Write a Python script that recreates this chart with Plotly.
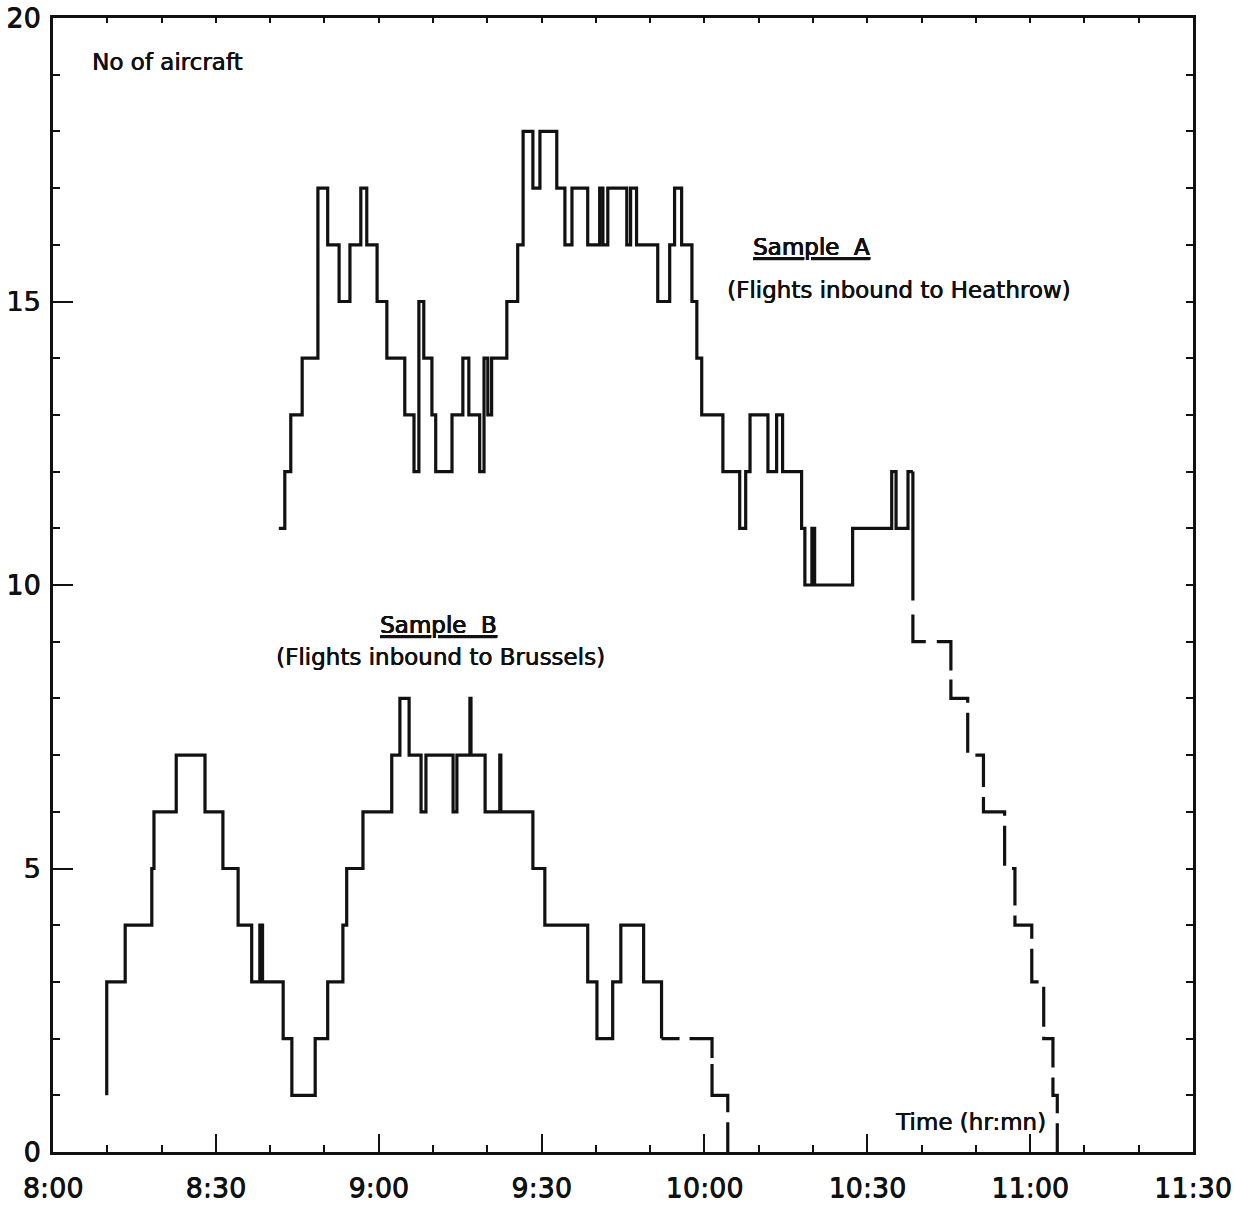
import plotly.graph_objects as go

# Time axis: minutes after 8:00
x_tick_vals = [0, 30, 60, 90, 120, 150, 180, 210]
x_tick_text = ["8:00", "8:30", "9:00", "9:30", "10:00", "10:30", "11:00", "11:30"]
y_tick_vals = [0, 5, 10, 15, 20]
y_tick_text = ["0", "5", "10", "15", "20"]

# Sample A (flights inbound to Heathrow): time of each change and the count from then on
a_times = [41.6, 42.7, 43.8, 45.9, 48.8, 50.6, 52.7, 54.7, 56.7, 57.8, 59.7, 61.5,
           64.8, 66.5, 67.4, 68.3, 69.8, 70.5, 73.5, 75.5, 76.6, 78.6, 79.4, 80.1,
           80.8, 83.6, 85.6, 86.6, 88.4, 89.7, 92.8, 94.3, 95.6, 98.5, 100.7, 101.3,
           102.2, 105.7, 106.4, 107.5, 111.4, 113.6, 114.5, 115.8, 117.7, 118.6, 119.5,
           123.4, 126.5, 127.6, 128.4, 131.7, 133.3, 134.4, 137.9, 138.5, 139.8, 140.3,
           147.3, 154.5, 155.3, 157.5, 158.4]
a_counts = [11, 12, 13, 14, 17, 16, 15, 16, 17, 16, 15, 14,
            13, 12, 15, 14, 13, 12, 13, 14, 13, 12, 14, 13,
            14, 15, 16, 18, 17, 18, 17, 16, 17, 16, 17, 16,
            17, 16, 17, 16, 15, 16, 17, 16, 15, 14, 13,
            12, 11, 12, 13, 12, 13, 12, 11, 10, 11, 10,
            11, 12, 11, 12, 12]
# Sample A run-down after the last recorded change (dashed)
a_tail_times = [158.4, 158.4, 165.4, 168.5, 171.4, 175.3, 177.2, 180.3, 182.5, 184.2, 185.0]
a_tail_counts = [12, 9, 8, 7, 6, 5, 4, 3, 2, 1, 0]

# Sample B (flights inbound to Brussels)
b_times = [9.9, 9.9, 13.3, 18.2, 18.6, 22.7, 28.0, 31.3, 34.1, 36.6, 38.1, 38.6,
           42.4, 44.0, 48.3, 50.6, 53.4, 54.1, 57.1, 62.4, 63.9, 65.6, 67.8, 68.7,
           73.7, 74.4, 76.8, 77.0, 79.6, 82.3, 82.5, 88.4, 90.6, 98.5, 100.2, 103.1,
           104.6, 108.8, 112.1]
b_counts = [1, 3, 4, 5, 6, 7, 6, 5, 4, 3, 4, 3,
            2, 1, 2, 3, 4, 5, 6, 7, 8, 7, 6, 7,
            6, 7, 8, 7, 6, 7, 6, 5, 4, 3, 2, 3,
            4, 3, 2]
b_tail_times = [112.1, 121.4, 124.3]
b_tail_counts = [2, 1, 0]

INK = "#111111"
FONT = "DejaVu Sans"
# slight stroke thickening for the hand-lettered look
HEAVY = "0.5px 0px 0px #111111, 0px 0.3px 0px #111111"

a_dash = "129px,14px,40px,11px,43px,9px," + ",".join(["40px,10px"] * 16)
b_dash = "18px,10px,42px,6px,64px,10px,40px,10px"

fig = go.Figure()

fig.add_trace(go.Scatter(x=a_times, y=a_counts, mode="lines", line_shape="hv",
                         line=dict(color=INK, width=3.2), name="Sample A",
                         showlegend=False))
fig.add_trace(go.Scatter(x=a_tail_times, y=a_tail_counts, mode="lines", line_shape="hv",
                         line=dict(color=INK, width=3.2, dash=a_dash),
                         showlegend=False))
fig.add_trace(go.Scatter(x=b_times, y=b_counts, mode="lines", line_shape="hv",
                         line=dict(color=INK, width=3.2), name="Sample B",
                         showlegend=False))
fig.add_trace(go.Scatter(x=b_tail_times, y=b_tail_counts, mode="lines", line_shape="hv",
                         line=dict(color=INK, width=3.2, dash=b_dash),
                         showlegend=False))
# carrier for the top/right tick axes
fig.add_trace(go.Scatter(x=[0], y=[0], xaxis="x2", yaxis="y2", mode="markers",
                         marker=dict(opacity=0), hoverinfo="skip", showlegend=False))

tick_font = dict(family=FONT, size=27, color=INK, shadow=HEAVY)

fig.update_layout(
    width=1234, height=1205,
    margin=dict(l=53, r=41, t=18, b=53, autoexpand=False),
    paper_bgcolor="white", plot_bgcolor="white",
    xaxis=dict(range=[0, 210], tickmode="array", tickvals=x_tick_vals, ticktext=x_tick_text,
               ticks="inside", ticklen=18, tickwidth=2, tickcolor=INK,
               minor=dict(tickmode="linear", tick0=0, dtick=10, ticks="inside",
                          ticklen=7, tickwidth=2, tickcolor=INK, showgrid=False),
               showline=True, linewidth=3, linecolor=INK, mirror=True,
               showgrid=False, zeroline=False, tickfont=tick_font,
               ticklabelstandoff=10, automargin=False),
    yaxis=dict(range=[0, 20], tickmode="array", tickvals=y_tick_vals, ticktext=y_tick_text,
               ticks="inside", ticklen=20, tickwidth=2, tickcolor=INK,
               minor=dict(tickmode="linear", tick0=0, dtick=1, ticks="inside",
                          ticklen=7, tickwidth=2, tickcolor=INK, showgrid=False),
               showline=True, linewidth=3, linecolor=INK, mirror=True,
               showgrid=False, zeroline=False, tickfont=tick_font,
               ticklabelstandoff=4, automargin=False),
    xaxis2=dict(overlaying="x", side="top", range=[0, 210], tickmode="linear", tick0=0,
                dtick=10, ticks="inside", ticklen=5, tickwidth=2, tickcolor=INK,
                showticklabels=False, showgrid=False, zeroline=False, showline=False,
                automargin=False),
    yaxis2=dict(overlaying="y", side="right", range=[0, 20], tickmode="linear", tick0=0,
                dtick=1, ticks="inside", ticklen=7, tickwidth=2, tickcolor=INK,
                showticklabels=False, showgrid=False, zeroline=False, showline=False,
                automargin=False),
)

label_font = dict(family=FONT, size=23, color=INK, shadow=HEAVY)
notes = [
    dict(x=6.8, y=19.22, text="No of aircraft", xanchor="left"),
    dict(x=139.8, y=15.96, text="<u>Sample  A</u>", xanchor="center"),
    dict(x=155.8, y=15.2, text="(Flights inbound to Heathrow)", xanchor="center"),
    dict(x=71.1, y=9.29, text="<u>Sample  B</u>", xanchor="center"),
    dict(x=71.3, y=8.73, text="(Flights inbound to Brussels)", xanchor="center"),
    dict(x=169.1, y=0.53, text="Time (hr:mn)", xanchor="center"),
]
for n in notes:
    fig.add_annotation(xref="x", yref="y", showarrow=False, yanchor="middle",
                       font=label_font, **n)

fig.write_html("out.html")
